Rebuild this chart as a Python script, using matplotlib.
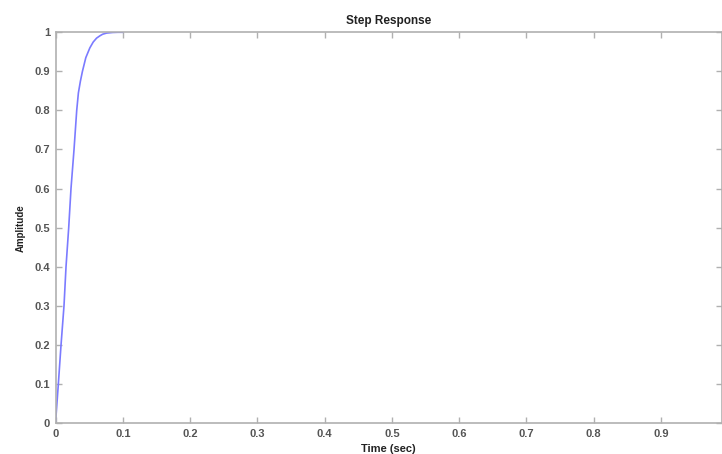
import numpy as np
import matplotlib
matplotlib.use("Agg")
import matplotlib.pyplot as plt

plt.rcParams['font.family'] = ['Liberation Sans', 'DejaVu Sans']

# Step response samples
time_s = [0.0, 0.0042, 0.0082, 0.0126, 0.0156, 0.0196, 0.023, 0.0275, 0.0315,
          0.034, 0.037, 0.040, 0.045, 0.051, 0.056, 0.061, 0.066, 0.070, 0.076, 0.085, 0.093, 0.1]
amplitude = [0.0, 0.1, 0.2, 0.3, 0.4, 0.5, 0.6, 0.7, 0.8,
             0.845, 0.875, 0.9, 0.935, 0.96, 0.975, 0.985, 0.991, 0.995, 0.998, 0.9995, 1.0, 1.0]

x_ticks = [0, 0.1, 0.2, 0.3, 0.4, 0.5, 0.6, 0.7, 0.8, 0.9]
x_tick_labels = ["0", "0.1", "0.2", "0.3", "0.4", "0.5", "0.6", "0.7", "0.8", "0.9"]
y_ticks = [0, 0.1, 0.2, 0.3, 0.4, 0.5, 0.6, 0.7, 0.8, 0.9, 1]
y_tick_labels = ["0", "0.1", "0.2", "0.3", "0.4", "0.5", "0.6", "0.7", "0.8", "0.9", "1"]

fig = plt.figure(figsize=(7.22, 4.54), dpi=100)
ax = fig.add_axes([0.0769, 0.0683, 0.9225, 0.8606])

ax.plot(time_s, amplitude, color="#7b7bff", lw=1.2)

ax.set_xlim(0, 0.99)
ax.set_ylim(0, 1)
ax.set_xticks(x_ticks)
ax.set_xticklabels(x_tick_labels)
ax.set_yticks(y_ticks)
ax.set_yticklabels(y_tick_labels)

gray = "#b0b0b0"
for s in ax.spines.values():
    s.set_color(gray)
    s.set_linewidth(1.2)
ax.tick_params(direction="in", length=4, width=1, color=gray,
               top=True, right=True, labelsize=8, labelcolor="#555555", pad=4)
for lab in ax.get_xticklabels() + ax.get_yticklabels():
    lab.set_fontweight("bold")

ax.set_title("Step Response", fontsize=8.5, fontweight="bold", color="#222222", pad=6)
ax.set_xlabel("Time (sec)", fontsize=8, fontweight="bold", color="#222222", labelpad=4)
ax.set_ylabel("Amplitude", fontsize=7, fontweight="bold", color="#222222", labelpad=6)

fig.savefig("out.png", dpi=100)
